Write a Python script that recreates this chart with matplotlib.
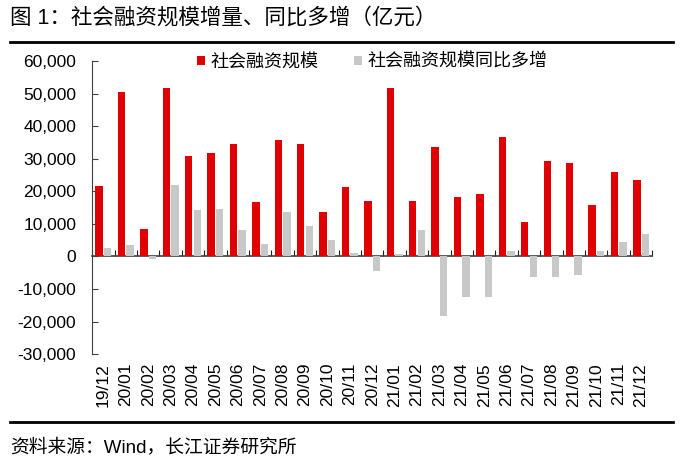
import numpy as np
import matplotlib
matplotlib.use('Agg')
import matplotlib.pyplot as plt
import matplotlib.transforms as mtransforms

plt.rcParams['font.family'] = ['Liberation Sans', 'Noto Sans CJK SC']

months = ['19/12', '20/01', '20/02', '20/03', '20/04', '20/05', '20/06', '20/07',
          '20/08', '20/09', '20/10', '20/11', '20/12', '21/01', '21/02', '21/03',
          '21/04', '21/05', '21/06', '21/07', '21/08', '21/09', '21/10', '21/11', '21/12']
# 社会融资规模 (亿元)
tsf = [21700, 50500, 8500, 51800, 30900, 31700, 34600, 16700, 35800, 34600, 13700,
       21200, 17000, 51800, 17000, 33500, 18400, 19300, 36800, 10600, 29400, 28800,
       15700, 25900, 23600]
# 同比多增 (亿元)
tsf_yoy = [2500, 3600, -700, 22000, 14200, 14600, 8200, 3900, 13600, 9400, 5000,
           1200, -4600, 900, 8100, -18400, -12400, -12600, 1700, -6300, -6300, -5600,
           1700, 4500, 7000]

fig = plt.figure(figsize=(6.83, 4.66), dpi=100)
ax = fig.add_axes([0.135, 0.240, 0.820, 0.629])

x = np.arange(len(months))
ax.bar(x - 0.19, tsf, width=0.33, color='#E00000', label='社会融资规模', zorder=3)
ax.bar(x + 0.19, tsf_yoy, width=0.33, color='#C8C8C8', label='社会融资规模同比多增', zorder=3)

ax.set_xlim(-0.5, len(months) - 0.5)
ax.set_ylim(-30000, 60000)
ax.set_yticks(np.arange(-30000, 60001, 10000))
ax.set_yticklabels([f'{v:,}' for v in range(-30000, 60001, 10000)], fontsize=12.5)
ax.tick_params(axis='y', direction='in', length=4, color='#404040', pad=11.5)

for s in ['top', 'right']:
    ax.spines[s].set_visible(False)
ax.spines['left'].set_color('#404040')
ax.spines['bottom'].set_position(('data', 0))
ax.spines['bottom'].set_color('#404040')
ax.spines['bottom'].set_linewidth(1.2)
ax.set_xticks(np.arange(len(months) + 1) - 0.5)
ax.set_xticklabels([])
ax.tick_params(axis='x', direction='in', length=4, color='#202020')

trans = mtransforms.blended_transform_factory(ax.transData, ax.transAxes)
for i, m in enumerate(months):
    ax.text(i, -0.03, m, transform=trans, rotation=90, ha='center', va='top', fontsize=12.5)

ax.legend(loc='upper center', bbox_to_anchor=(0.5, 1.08), ncol=2, frameon=False,
          fontsize=13, handlelength=0.45, handleheight=0.45, handletextpad=0.3,
          columnspacing=2.0)

fig.text(0.015, 0.962, '图 1：社会融资规模增量、同比多增（亿元）', fontsize=15.5, va='center')
fig.add_artist(plt.Line2D([0.015, 0.985], [0.909, 0.909], color='black', lw=2))
fig.add_artist(plt.Line2D([0.015, 0.985], [0.094, 0.094], color='black', lw=2))
fig.text(0.015, 0.040, '资料来源：Wind，长江证券研究所', fontsize=13.5, va='center')

fig.savefig('out.png', dpi=100)
